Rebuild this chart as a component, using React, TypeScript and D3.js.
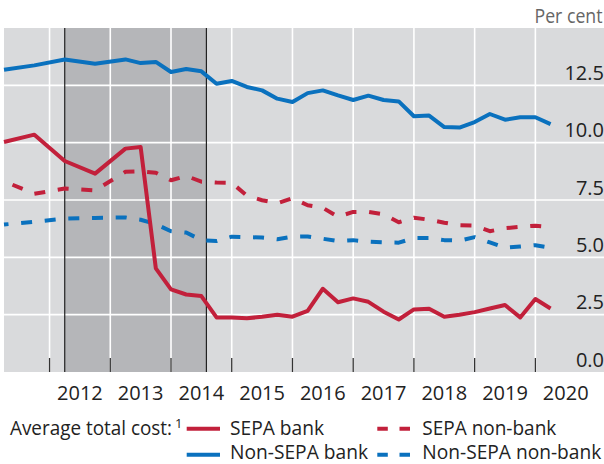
import React from "react";
import * as d3 from "d3";

// Observation periods (quarter-end positions)
const periods: string[] = [
  "2011Q1", "2011Q3", "2012Q1", "2012Q3",
  "2013Q1", "2013Q2", "2013Q3", "2013Q4",
  "2014Q1", "2014Q2", "2014Q3", "2014Q4",
  "2015Q1", "2015Q2", "2015Q3", "2015Q4",
  "2016Q1", "2016Q2", "2016Q3", "2016Q4",
  "2017Q1", "2017Q2", "2017Q3", "2017Q4",
  "2018Q1", "2018Q2", "2018Q3", "2018Q4",
  "2019Q1", "2019Q2", "2019Q3", "2019Q4",
  "2020Q1",
];

const sepaBank: number[] = [
  10.03, 10.35, 9.2, 8.65,
  9.74, 9.81, 4.52, 3.6,
  3.38, 3.31, 2.38, 2.38,
  2.34, 2.41, 2.5, 2.41,
  2.67, 3.63, 3.04, 3.21,
  3.06, 2.63, 2.29, 2.73,
  2.76, 2.41, 2.5, 2.61,
  2.77, 2.92, 2.38, 3.18,
  2.77,
];

const sepaNonBank: number[] = [
  8.32, 7.77, 8.0, 7.92,
  8.73, 8.75, 8.69, 8.36,
  8.55, 8.3, 8.26, 8.25,
  7.69, 7.49, 7.36, 7.58,
  7.27, 7.16, 6.77, 6.98,
  6.98, 6.88, 6.53, 6.73,
  6.64, 6.51, 6.4, 6.38,
  6.14, 6.27, 6.33, 6.38,
  6.32,
];

const nonSepaBank: number[] = [
  13.18, 13.37, 13.63, 13.44,
  13.63, 13.47, 13.52, 13.08,
  13.21, 13.11, 12.57, 12.69,
  12.43, 12.28, 11.92, 11.77,
  12.16, 12.28, 12.06, 11.86,
  12.05, 11.86, 11.8, 11.15,
  11.18, 10.68, 10.66, 10.9,
  11.25, 11.0, 11.11, 11.11,
  10.81,
];

const nonSepaNonBank: number[] = [
  6.43, 6.55, 6.69, 6.72,
  6.74, 6.64, 6.45, 6.14,
  6.08, 5.75, 5.71, 5.9,
  5.88, 5.86, 5.79, 5.9,
  5.91, 5.81, 5.71, 5.75,
  5.68, 5.65, 5.64, 5.84,
  5.84, 5.75, 5.73, 5.88,
  5.65, 5.42, 5.47, 5.53,
  5.42,
];

const yearTicks: number[] = [2012, 2013, 2014, 2015, 2016, 2017, 2018, 2019, 2020];
const yTicks: number[] = [0, 2.5, 5, 7.5, 10, 12.5];
// SEPA migration period (end-March 2012 to 1 August 2014)
const shadeStart = 2012.25;
const shadeEnd = 2014.583;

const legendLabels = ["SEPA bank", "SEPA non-bank", "Non-SEPA bank", "Non-SEPA non-bank"];

const RED = "#c2203b";
const BLUE = "#0a71be";
const FONT = "'Open Sans', sans-serif";

const W = 604;
const H = 464;
const plot = { left: 4, right: 604, top: 28, bottom: 372 };

function periodToX(p: string): number {
  const year = +p.slice(0, 4);
  const q = +p.slice(5);
  return year + q * 0.25;
}

export default function App() {
  const x = d3.scaleLinear().domain([2011.25, 2021.13]).range([plot.left, plot.right]);
  const y = d3.scaleLinear().domain([0, 15]).range([plot.bottom, plot.top]);
  const dates = periods.map(periodToX);

  const line = (vals: number[]) =>
    d3
      .line<number>()
      .x((_, i) => x(dates[i]))
      .y((v) => y(v))(vals) || "";

  const series = [
    { vals: nonSepaBank, color: BLUE, dash: undefined, offset: 0 },
    { vals: sepaNonBank, color: RED, dash: "11,12.7", offset: 14.5 },
    { vals: nonSepaNonBank, color: BLUE, dash: "11,12.7", offset: 6.5 },
    { vals: sepaBank, color: RED, dash: undefined, offset: 0 },
  ];

  const lw = 4;
  const row1 = 428.7;
  const row2 = 454.7;
  const base1 = 435.2;
  const base2 = 459;
  const lf = 19.5;

  return (
    <svg
      width={W}
      height={H}
      style={{ position: "absolute", left: 0, top: 0, background: "#fff" }}
      fontFamily={FONT}
    >
      <rect
        x={plot.left}
        y={plot.top}
        width={plot.right - plot.left}
        height={plot.bottom - plot.top}
        fill="#d9dadc"
      />
      <rect
        x={x(shadeStart)}
        y={plot.top}
        width={x(shadeEnd) - x(shadeStart)}
        height={plot.bottom - plot.top}
        fill="#b5b6b9"
      />
      {yTicks.filter((t) => t > 0).map((t) => (
        <line key={"h" + t} x1={plot.left} x2={plot.right} y1={y(t)} y2={y(t)} stroke="#fff" strokeWidth={1.6} />
      ))}
      {yearTicks.map((t) => (
        <line key={"v" + t} x1={x(t)} x2={x(t)} y1={plot.top} y2={plot.bottom} stroke="#fff" strokeWidth={1.6} />
      ))}
      {yearTicks.map((t) => (
        <line key={"t" + t} x1={x(t)} x2={x(t)} y1={plot.bottom - 14} y2={plot.bottom} stroke="#333" strokeWidth={1.3} />
      ))}
      {[shadeStart, shadeEnd].map((t) => (
        <line key={"s" + t} x1={x(t)} x2={x(t)} y1={plot.top} y2={plot.bottom} stroke="#222" strokeWidth={1.2} />
      ))}
      {series.map((s, i) => (
        <path
          key={i}
          d={line(s.vals)}
          fill="none"
          stroke={s.color}
          strokeWidth={lw}
          strokeDasharray={s.dash}
          strokeDashoffset={s.offset}
          strokeLinejoin="round"
        />
      ))}
      {yTicks.map((t) => (
        <text key={"yl" + t} x={604} y={y(t) - 5.5} textAnchor="end" fontSize={20} fill="#222">
          {t.toFixed(1)}
        </text>
      ))}
      <text x={602.5} y={22.5} textAnchor="end" fontSize={20} fill="#666" textLength={68} lengthAdjust="spacingAndGlyphs">
        Per cent
      </text>
      {yearTicks.map((t) => (
        <text key={"xl" + t} x={x(t + 0.5)} y={399.5} textAnchor="middle" fontSize={20} fill="#222">
          {t}
        </text>
      ))}
      {/* Legend */}
      <text x={10} y={base1} fontSize={lf} fill="#222" textLength={162} lengthAdjust="spacingAndGlyphs">
        Average total cost:
      </text>
      <text x={175} y={428} fontSize={13} fill="#222">
        1
      </text>
      <line x1={186.7} x2={220} y1={row1} y2={row1} stroke={RED} strokeWidth={lw} />
      <text x={230} y={base1} fontSize={lf} fill="#222" textLength={94} lengthAdjust="spacingAndGlyphs">
        {legendLabels[0]}
      </text>
      <line x1={186.7} x2={220} y1={row2} y2={row2} stroke={BLUE} strokeWidth={lw} />
      <text x={230} y={base2} fontSize={lf} fill="#222" textLength={138} lengthAdjust="spacingAndGlyphs">
        {legendLabels[2]}
      </text>
      <line x1={377.3} x2={410} y1={row1} y2={row1} stroke={RED} strokeWidth={lw} strokeDasharray="10.5,11.7" />
      <text x={422.3} y={base1} fontSize={lf} fill="#222" textLength={134} lengthAdjust="spacingAndGlyphs">
        {legendLabels[1]}
      </text>
      <line x1={377.3} x2={410} y1={row2} y2={row2} stroke={BLUE} strokeWidth={lw} strokeDasharray="10.5,11.7" />
      <text x={422.3} y={base2} fontSize={lf} fill="#222" textLength={179} lengthAdjust="spacingAndGlyphs">
        {legendLabels[3]}
      </text>
    </svg>
  );
}
